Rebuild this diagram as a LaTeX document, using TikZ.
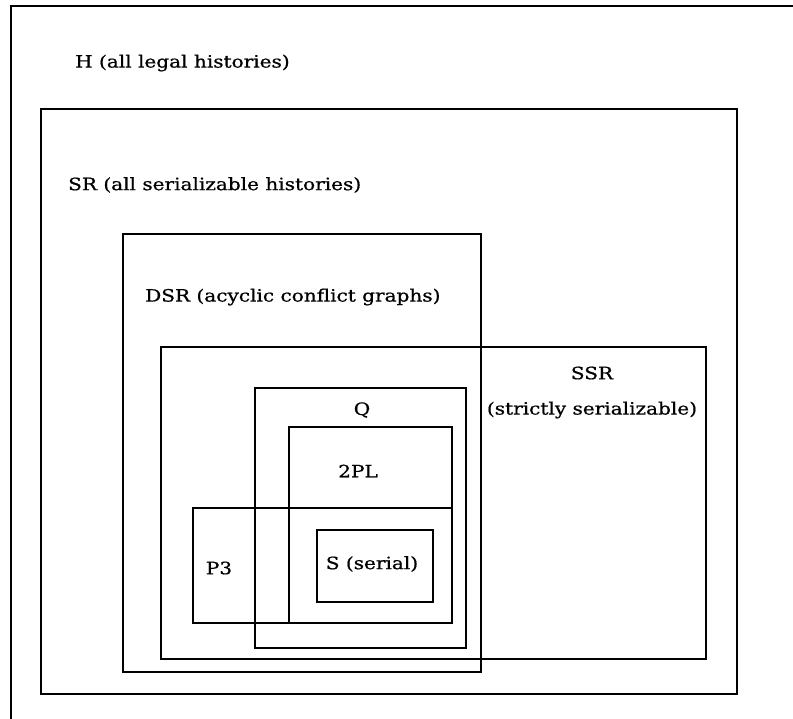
\documentclass[tikz,border=0pt]{standalone}
\usepackage{fontspec}
\setmainfont{DejaVu Serif}[FakeStretch=1.18,FakeBold=0.8]
\begin{document}
\begin{tikzpicture}[x=1pt,y=-1pt,
  setbox/.style={line width=1.6pt},
  lbl/.style={inner sep=0pt,font=\fontsize{17}{20}\selectfont}]
\useasboundingbox (0,0) rectangle (793,718);
\begin{scope}
\clip (0,0) rectangle (793,718);
\draw[setbox] (11,6) rectangle (820,740);
\end{scope}
% SR
\draw[setbox] (41,109) rectangle (737,694);
% DSR
\draw[setbox] (123,234) rectangle (481,672);
% SSR
\draw[setbox] (161,347) rectangle (706,659);
% Q
\draw[setbox] (255,388) rectangle (466,648);
% 2PL
\draw[setbox] (289,427) rectangle (452,623);
% P3
\draw[setbox] (193,508) rectangle (452,623);
% S
\draw[setbox] (317,530) rectangle (433,602);
% labels
\node[lbl,anchor=west] (tH) at (75,63) {H (all legal histories)};
\node[lbl,anchor=west] (tSR) at (68,185) {SR (all serializable histories)};
\node[lbl,anchor=west] (tDSR) at (145,297) {DSR (acyclic conflict graphs)};
\node[lbl] (tSSR) at (592,373) {SSR};
\node[lbl] (tSSR2) at (592,410) {(strictly serializable)};
\node[lbl] (tQ) at (362,410) {Q};
\node[lbl] (t2PL) at (358,471) {2PL};
\node[lbl] (tP3) at (219,568) {P3};
\node[lbl] (tS) at (372,564) {S (serial)};
\end{tikzpicture}
\end{document}
